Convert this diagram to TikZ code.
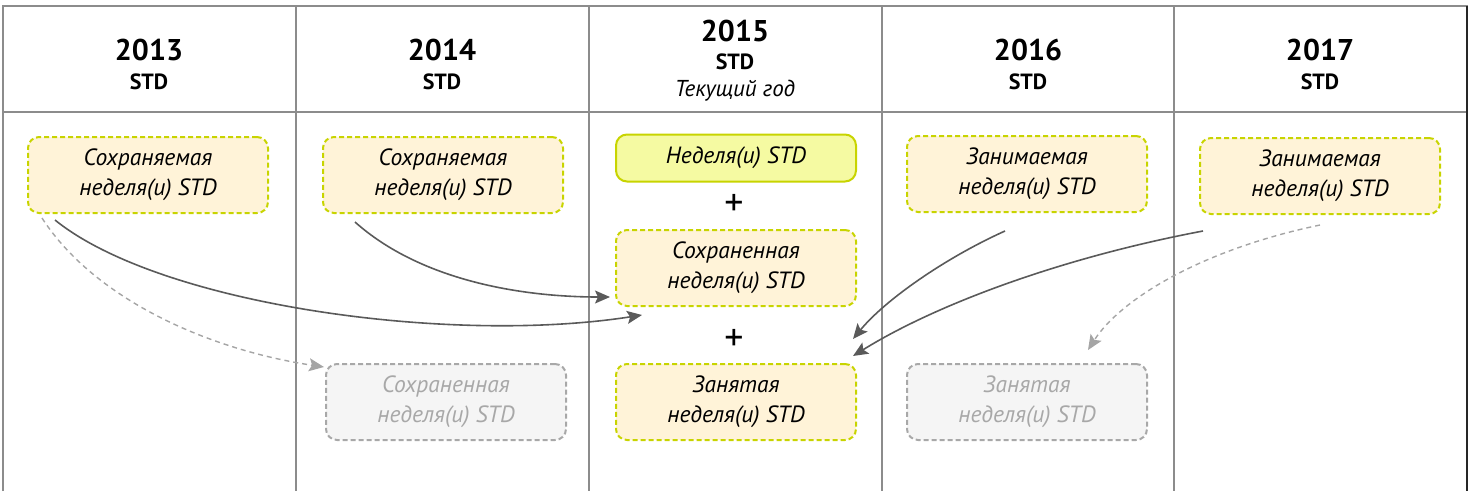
\documentclass[tikz,border=0pt]{standalone}
\usepackage{fontspec}
\setmainfont{PT Sans}
\usetikzlibrary{arrows.meta}
\definecolor{gridc}{HTML}{8C8C8C}
\definecolor{boxfill}{HTML}{FFF3D8}
\definecolor{boxline}{HTML}{C8D400}
\definecolor{topfill}{HTML}{F5FAA2}
\definecolor{greyfill}{HTML}{F5F5F5}
\definecolor{greyline}{HTML}{A8A8A8}
\definecolor{greytext}{HTML}{A8A8A8}
\definecolor{arrowc}{HTML}{5A5A5A}
\definecolor{darrowc}{HTML}{A5A5A5}
\tikzset{
  yearlbl/.style={font=\bfseries\fontsize{30}{34}\selectfont, inner sep=0pt},
  stdlbl/.style={font=\bfseries\fontsize{22}{26}\selectfont, inner sep=0pt},
  curlbl/.style={font=\itshape\fontsize{23}{26}\selectfont, inner sep=0pt},
  basebox/.style={rounded corners=11pt, line width=2pt, minimum width=240pt,
     minimum height=76pt, align=center, font=\itshape\fontsize{23.5}{30}\selectfont},
  weekbox/.style={basebox, draw=boxline, fill=boxfill, dash pattern=on 5pt off 3pt},
  topbox/.style={basebox, draw=boxline, fill=topfill, minimum height=47pt},
  greybox/.style={basebox, draw=greyline, fill=greyfill, text=greytext, dash pattern=on 5pt off 3pt},
  plussign/.style={font=\fontsize{38}{38}\selectfont, inner sep=0pt},
  conn/.style={draw=arrowc, line width=1.6pt, -{Stealth[length=15pt,width=13pt,inset=3pt]}},
  dconn/.style={draw=darrowc, line width=1.4pt, dash pattern=on 5pt off 4pt, -{Stealth[length=15pt,width=13pt,inset=3pt]}},
  gridline/.style={draw=gridc, line width=1.4pt}
}
\begin{document}
\begin{tikzpicture}[x=1pt, y=-1pt]
\useasboundingbox (0,0) rectangle (1473,491);
% table
\draw[gridline] (3,491) -- (3,6) -- (1467,6) -- (1467,491);
\draw[gridline] (3,112) -- (1467,112);
\foreach \xx in {296,589,882,1174} \draw[gridline] (\xx,6) -- (\xx,491);
\draw[draw=black!85, line width=1.8pt] (1467,6) -- (1467,491);
% headers
\node[yearlbl] (y13) at (149,50) {2013};
\node[stdlbl] (s13) at (149,82) {STD};
\node[yearlbl] (y14) at (442,50) {2014};
\node[stdlbl] (s14) at (442,82) {STD};
\node[yearlbl] (y15) at (735,31) {2015};
\node[stdlbl] (s15) at (735,62) {STD};
\node[curlbl] (c15) at (735,91) {Текущий год};
\node[yearlbl] (y16) at (1028,50) {2016};
\node[stdlbl] (s16) at (1028,82) {STD};
\node[yearlbl] (y17) at (1320,50) {2017};
\node[stdlbl] (s17) at (1320,82) {STD};
% boxes
\node[weekbox] (b13) at (148,175) {Сохраняемая\\неделя(и) STD};
\node[weekbox] (b14) at (443,175) {Сохраняемая\\неделя(и) STD};
\node[topbox] (b15a) at (736,158) {Неделя(и) STD};
\node[plussign] (p1) at (734,205) {+};
\node[weekbox] (b15b) at (736,268) {Сохраненная\\неделя(и) STD};
\node[plussign] (p2) at (734,340) {+};
\node[weekbox] (b15c) at (736,402) {Занятая\\неделя(и) STD};
\node[greybox] (g14) at (446,402) {Сохраненная\\неделя(и) STD};
\node[weekbox] (b16) at (1027,174) {Занимаемая\\неделя(и) STD};
\node[weekbox] (b17) at (1320,176) {Занимаемая\\неделя(и) STD};
\node[greybox] (g16) at (1027,402) {Занятая\\неделя(и) STD};
% connector end points
\coordinate (a1s) at (55,220);
\coordinate (a1e) at (642,315);
\coordinate (a2s) at (355,222);
\coordinate (a2e) at (610,297);
\coordinate (a3s) at (1005,231);
\coordinate (a3e) at (853,339);
\coordinate (a4s) at (1203,231);
\coordinate (a4e) at (853,356);
\coordinate (d1s) at (42,218);
\coordinate (d1e) at (324,367);
\coordinate (d2s) at (1320,225);
\coordinate (d2e) at (1088,350);
% connectors
\draw[conn] (a1s) .. controls (160,305) and (450,345) .. (a1e);
\draw[conn] (a2s) .. controls (420,280) and (520,297) .. (a2e);
\draw[conn] (a3s) .. controls (945,258) and (885,300) .. (a3e);
\draw[conn] (a4s) .. controls (1060,258) and (935,305) .. (a4e);
\draw[dconn] (d1s) .. controls (95,300) and (210,350) .. (d1e);
\draw[dconn] (d2s) .. controls (1200,250) and (1120,300) .. (d2e);
\end{tikzpicture}
\end{document}
